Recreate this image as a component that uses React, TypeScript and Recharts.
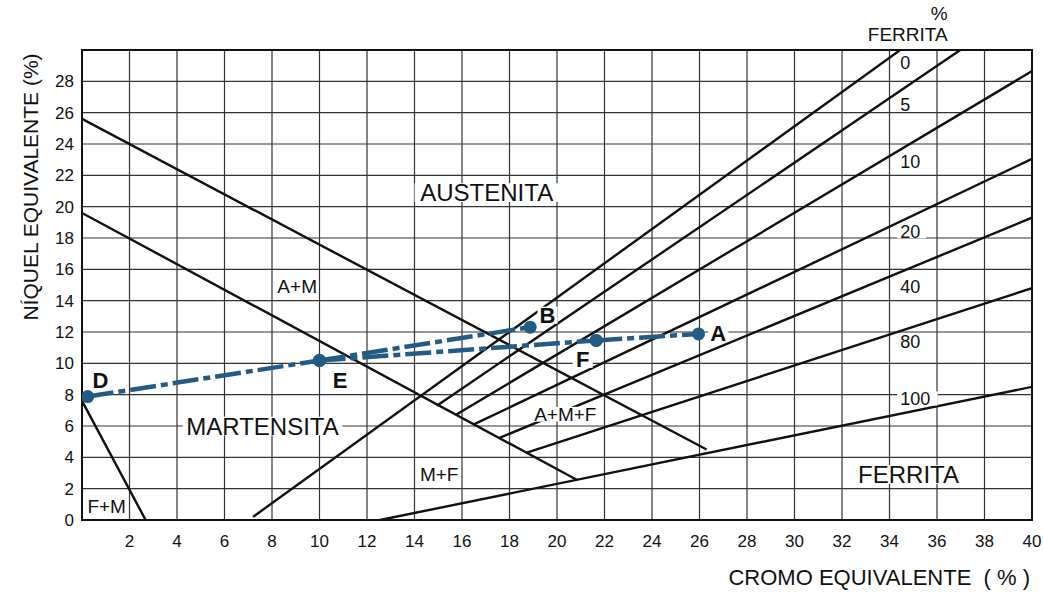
import {
  LineChart,
  Line,
  XAxis,
  YAxis,
  CartesianGrid,
  ReferenceArea,
  ReferenceDot,
} from 'recharts';

type Pt = { x: number; y: number };
type Tag = { text: string; x: number; y: number };

// axis ticks
const xTicks = [0, 2, 4, 6, 8, 10, 12, 14, 16, 18, 20, 22, 24, 26, 28, 30, 32, 34, 36, 38, 40];
const yTicks = [0, 2, 4, 6, 8, 10, 12, 14, 16, 18, 20, 22, 24, 26, 28, 30];

// phase boundaries
const upperAM: Pt[] = [{ x: 0, y: 25.6 }, { x: 26.3, y: 4.5 }];
const lowerAM: Pt[] = [{ x: 0, y: 19.6 }, { x: 20.85, y: 2.55 }];
const fPlusM: Pt[] = [{ x: 0, y: 7.6 }, { x: 2.68, y: 0 }];

// ferrite % lines
const ferrite0: Pt[] = [{ x: 7.2, y: 0.2 }, { x: 34.45, y: 30 }];
const ferrite5: Pt[] = [{ x: 14.94, y: 7.3 }, { x: 36.98, y: 30 }];
const ferrite10: Pt[] = [{ x: 15.75, y: 6.72 }, { x: 40, y: 28.65 }];
const ferrite20: Pt[] = [{ x: 16.5, y: 6.1 }, { x: 40, y: 23.05 }];
const ferrite40: Pt[] = [{ x: 17.58, y: 5.24 }, { x: 40, y: 19.3 }];
const ferrite80: Pt[] = [{ x: 18.73, y: 4.3 }, { x: 40, y: 14.8 }];
const ferrite100: Pt[] = [{ x: 12.55, y: 0 }, { x: 40, y: 8.5 }];

// points D, E, B, F, A
const pD: Pt = { x: 0.24, y: 7.88 };
const pE: Pt = { x: 10, y: 10.18 };
const pB: Pt = { x: 18.87, y: 12.31 };
const pF: Pt = { x: 21.65, y: 11.46 };
const pA: Pt = { x: 25.96, y: 11.88 };
const pathDE = [pD, pE];
const pathEB = [pE, pB];
const pathEF = [pE, pF];
const pathFA = [pF, pA];

// text
const regionLabels: Tag[] = [
  { text: 'AUSTENITA', x: 17.04, y: 20.9 },
  { text: 'MARTENSITA', x: 7.6, y: 6.0 },
  { text: 'FERRITA', x: 34.8, y: 2.9 },
];
const phaseLabels: Tag[] = [
  { text: 'A+M', x: 9.06, y: 14.9 },
  { text: 'A+M+F', x: 20.35, y: 6.75 },
  { text: 'M+F', x: 15.04, y: 2.9 },
  { text: 'F+M', x: 1.04, y: 0.9 },
];
const pointLetters: Tag[] = [
  { text: 'D', x: 0.78, y: 8.95 },
  { text: 'E', x: 10.87, y: 8.91 },
  { text: 'B', x: 19.6, y: 13.07 },
  { text: 'F', x: 21.08, y: 10.26 },
  { text: 'A', x: 26.79, y: 11.92 },
];
const ferriteLabels: Tag[] = [
  { text: '0', x: 34.45, y: 29.17 },
  { text: '5', x: 34.45, y: 26.52 },
  { text: '10', x: 34.45, y: 22.9 },
  { text: '20', x: 34.45, y: 18.43 },
  { text: '40', x: 34.45, y: 14.92 },
  { text: '80', x: 34.45, y: 11.4 },
  { text: '100', x: 34.45, y: 7.76 },
];
const ferriteHeader: Tag[] = [
  { text: '%', x: 36.45, y: 32.33 },
  { text: 'FERRITA', x: 36.45, y: 30.99 },
];

const FONT = '"Liberation Sans", Arial, Helvetica, sans-serif';
const INK = '#111';
const BLUE = '#245b85';

const tagShape =
  (t: Tag, size: number, opts: { bold?: boolean; bg?: boolean; anchor?: 'start' | 'middle' | 'end' } = {}) =>
  (p: any) => {
    const anchor = opts.anchor || 'middle';
    const w = t.text.length * size * 0.64 + 6;
    const h = size * 0.78;
    const left = anchor === 'middle' ? p.cx - w / 2 : anchor === 'start' ? p.cx - 3 : p.cx - w + 3;
    return (
      <g>
        {opts.bg && <rect x={left} y={p.cy - h / 2} width={w} height={h} fill="#fff" />}
        <text
          x={p.cx}
          y={p.cy + size * 0.36}
          textAnchor={anchor}
          fontFamily={FONT}
          fontSize={size}
          fontWeight={opts.bold ? 'bold' : 'normal'}
          fill={INK}
        >
          {t.text}
        </text>
      </g>
    );
  };

const blackLine = (data: Pt[], key: string) => (
  <Line
    key={key}
    data={data}
    dataKey="y"
    type="linear"
    stroke={INK}
    strokeWidth={2.4}
    dot={false}
    activeDot={false}
    isAnimationActive={false}
  />
);

const blueLine = (data: Pt[], key: string) => (
  <Line
    key={key}
    data={data}
    dataKey="y"
    type="linear"
    stroke={BLUE}
    strokeWidth={4.5}
    strokeDasharray="26 5 7 5"
    dot={{ r: 6.5, fill: BLUE, stroke: BLUE, strokeWidth: 0, strokeDasharray: '' }}
    activeDot={false}
    isAnimationActive={false}
  />
);

export default function App() {
  return (
    <div style={{ width: 1044, height: 592, fontFamily: FONT }}>
      <style>{'body{margin:0}'}</style>
      <LineChart width={1044} height={592} margin={{ top: 50, right: 12, bottom: 0, left: 0 }}>
        <CartesianGrid stroke="#333" strokeWidth={1.2} />
        <XAxis
          type="number"
          dataKey="x"
          domain={[0, 40]}
          ticks={xTicks}
          interval={0}
          allowDataOverflow
          height={72}
          axisLine={false}
          tickLine={false}
          tickSize={0}
          tickMargin={15}
          tickFormatter={(v: number) => (v === 0 ? '' : String(v))}
          tick={{ fill: INK, fontSize: 17, fontFamily: FONT }}
          label={{
            content: (props: any) => {
              const vb = props.viewBox;
              return (
                <text
                  x={vb.x + vb.width - 2}
                  y={vb.y + 65}
                  textAnchor="end"
                  fontFamily={FONT}
                  fontSize={22}
                  fill={INK}
                  style={{ whiteSpace: 'pre' }}
                >
                  {'CROMO EQUIVALENTE  ( % )'}
                </text>
              );
            },
          }}
        />
        <YAxis
          type="number"
          domain={[0, 30]}
          ticks={yTicks}
          interval={0}
          allowDataOverflow
          width={82}
          axisLine={false}
          tickLine={false}
          tickSize={0}
          tickMargin={8}
          tickFormatter={(v: number) => (v === 30 ? '' : String(v))}
          tick={{ fill: INK, fontSize: 17, fontFamily: FONT }}
          label={{
            content: (props: any) => {
              const vb = props.viewBox;
              const cx = 30;
              const cy = vb.y + 137;
              return (
                <text
                  x={cx}
                  y={cy}
                  transform={`rotate(-90 ${cx} ${cy})`}
                  textAnchor="middle"
                  dominantBaseline="central"
                  fontFamily={FONT}
                  fontSize={21}
                  fill={INK}
                >
                  NÍQUEL EQUIVALENTE (%)
                </text>
              );
            },
          }}
        />
        <ReferenceArea x1={0} x2={40} y1={0} y2={30} fill="none" stroke={INK} strokeWidth={2} ifOverflow="visible" />

        {blackLine(upperAM, 'upperAM')}
        {blackLine(lowerAM, 'lowerAM')}
        {blackLine(fPlusM, 'fPlusM')}
        {blackLine(ferrite0, 'f0')}
        {blackLine(ferrite5, 'f5')}
        {blackLine(ferrite10, 'f10')}
        {blackLine(ferrite20, 'f20')}
        {blackLine(ferrite40, 'f40')}
        {blackLine(ferrite80, 'f80')}
        {blackLine(ferrite100, 'f100')}

        {regionLabels.map((t) => (
          <ReferenceDot key={t.text} x={t.x} y={t.y} r={0} ifOverflow="visible" shape={tagShape(t, 24, { bg: true })} />
        ))}
        {phaseLabels.map((t) => (
          <ReferenceDot key={t.text} x={t.x} y={t.y} r={0} ifOverflow="visible" shape={tagShape(t, 19, { bg: true })} />
        ))}
        {ferriteLabels.map((t) => (
          <ReferenceDot
            key={'fl' + t.text}
            x={t.x}
            y={t.y}
            r={0}
            ifOverflow="visible"
            shape={tagShape(t, 18, { bg: true, anchor: 'start' })}
          />
        ))}
        {ferriteHeader.map((t) => (
          <ReferenceDot
            key={'fh' + t.text}
            x={t.x}
            y={t.y}
            r={0}
            ifOverflow="visible"
            shape={tagShape(t, 19, { anchor: 'end' })}
          />
        ))}
        {pointLetters.map((t) => (
          <ReferenceDot
            key={'pl' + t.text}
            x={t.x}
            y={t.y}
            r={0}
            ifOverflow="visible"
            shape={tagShape(t, 22, { bold: true, bg: true })}
          />
        ))}

        {blueLine(pathDE, 'de')}
        {blueLine(pathEB, 'eb')}
        {blueLine(pathEF, 'ef')}
        {blueLine(pathFA, 'fa')}
      </LineChart>
    </div>
  );
}
